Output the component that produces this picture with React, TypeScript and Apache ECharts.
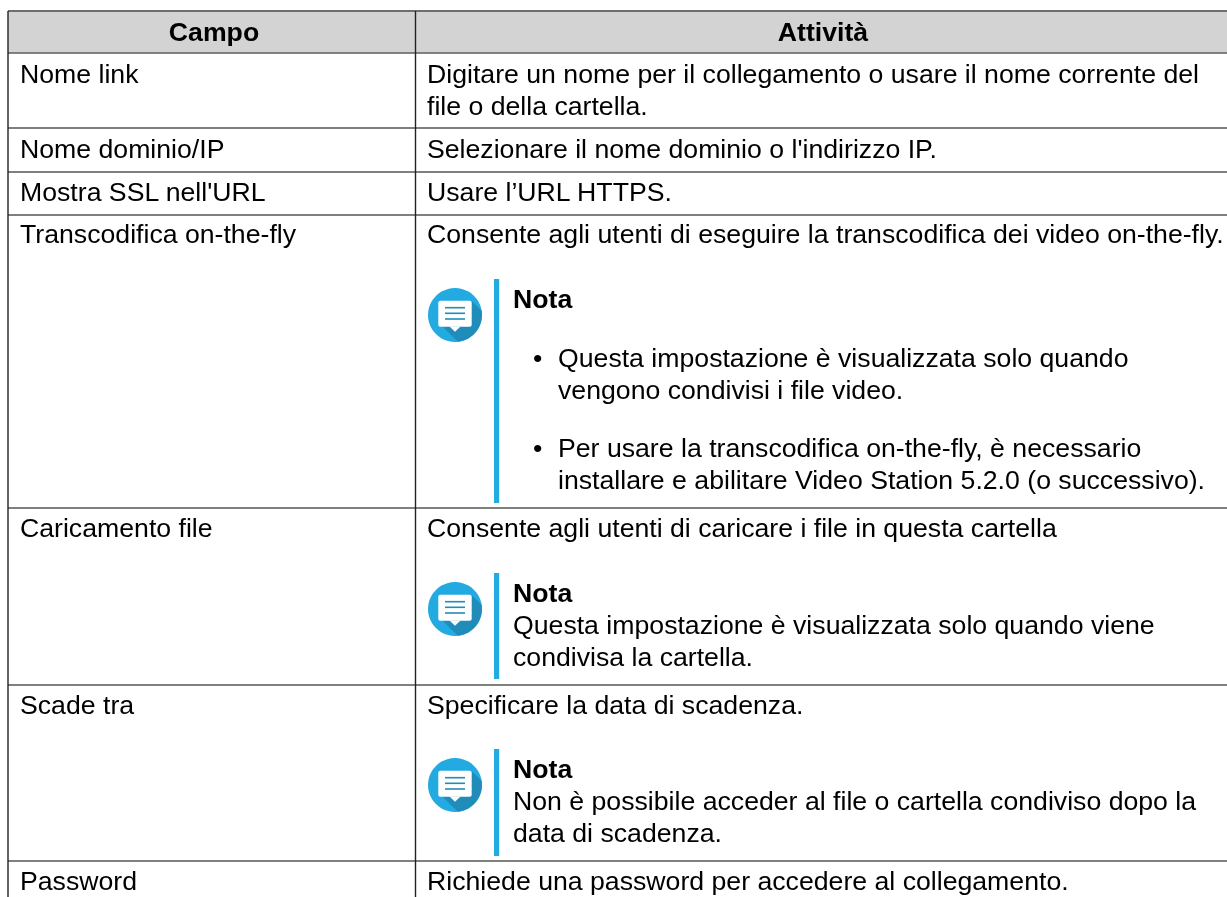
import React, { useEffect, useRef } from "react";
import * as echarts from "echarts";

// ---- content ----
const headers = ["Campo", "Attività"];
const fields = [
  "Nome link",
  "Nome dominio/IP",
  "Mostra SSL nell'URL",
  "Transcodifica on-the-fly",
  "Caricamento file",
  "Scade tra",
  "Password",
];
const activities = [
  ["Digitare un nome per il collegamento o usare il nome corrente del", "file o della cartella."],
  ["Selezionare il nome dominio o l'indirizzo IP."],
  ["Usare l’URL HTTPS."],
  ["Consente agli utenti di eseguire la transcodifica dei video on-the-fly."],
  ["Consente agli utenti di caricare i file in questa cartella"],
  ["Specificare la data di scadenza."],
  ["Richiede una password per accedere al collegamento."],
];
const noteTitle = "Nota";
const note1Bullets = [
  ["Questa impostazione è visualizzata solo quando", "vengono condivisi i file video."],
  ["Per usare la transcodifica on-the-fly, è necessario", "installare e abilitare Video Station 5.2.0 (o successivo)."],
];
const note2Lines = ["Questa impostazione è visualizzata solo quando viene", "condivisa la cartella."];
const note3Lines = ["Non è possibile acceder al file o cartella condiviso dopo la", "data di scadenza."];

// ---- layout ----
const W = 1227;
const H = 897;
const leftX = 8;
const dividerX = 415.5;
const topY = 11;
const headerBottom = 53;
const rowBottoms = [128, 172, 215, 508, 685, 861];
const rowTextY = [74, 149, 192, 234, 528, 705, 881];
const lineGap = 32;
const leftTextX = 20;
const rightTextX = 427;
const noteTextX = 513;
const bulletDotX = 533;
const bulletTextX = 558;
const iconCx = 455;
const FONT = '"Liberation Sans", Arial, sans-serif';
const SIZE = 26.67;

const shadowPath = "M16.7 -14 L26.7 -4 A27 27 0 0 1 2.8 26.8 L-12 12 Z";
echarts.graphic.registerShape("noteShadowPath", echarts.graphic.extendPath(shadowPath as any, {}) as any);

function txt(s: string, x: number, y: number, bold = false, align = "left") {
  return {
    type: "text",
    silent: true,
    style: {
      text: s,
      x,
      y,
      fill: "#000",
      font: `${bold ? "bold " : ""}${SIZE}px ${FONT}`,
      align,
      verticalAlign: "middle",
    },
  };
}
function hline(y: number, color = "#555", w = 1.5) {
  return { type: "line", silent: true, shape: { x1: leftX, y1: y, x2: W, y2: y }, style: { stroke: color, lineWidth: w } };
}
function vline(x: number) {
  return { type: "line", silent: true, shape: { x1: x, y1: topY, x2: x, y2: H }, style: { stroke: "#222", lineWidth: 1.4 } };
}
function icon(cy: number) {
  const blue = "#22aae1";
  const dark = "#1f8cba";
  const out: any[] = [
    { type: "circle", silent: true, shape: { cx: iconCx, cy, r: 27 }, style: { fill: blue } },
    { type: "noteShadowPath", silent: true, x: iconCx, y: cy, style: { fill: dark } },
    { type: "rect", silent: true, shape: { x: iconCx - 16.7, y: cy - 14.3, width: 33.4, height: 26, r: 2 }, style: { fill: "#fff" } },
    { type: "polygon", silent: true, shape: { points: [[iconCx - 5.5, cy + 11.5], [iconCx + 5.5, cy + 11.5], [iconCx, cy + 16.7]] }, style: { fill: "#fff" } },
  ];
  [-7.3, -1.7, 4].forEach((d) =>
    out.push({ type: "rect", silent: true, shape: { x: iconCx - 10, y: cy + d - 0.8, width: 20, height: 1.6 }, style: { fill: dark } })
  );
  return out;
}
function bar(y1: number, y2: number) {
  return { type: "rect", silent: true, shape: { x: 494, y: y1, width: 5.2, height: y2 - y1 }, style: { fill: "#22aae1" } };
}

function buildGraphics() {
  const els: any[] = [];
  els.push({ type: "rect", silent: true, shape: { x: leftX, y: topY, width: W - leftX, height: headerBottom - topY }, style: { fill: "#d3d3d3" } });
  els.push(hline(topY, "#6e6e6e", 2));
  els.push(hline(headerBottom, "#5e5e5e", 1.6));
  rowBottoms.forEach((y) => els.push(hline(y)));
  els.push(vline(leftX), vline(dividerX));

  els.push(txt(headers[0], 214, 32, true, "center"));
  els.push(txt(headers[1], 823, 32, true, "center"));

  fields.forEach((f, i) => els.push(txt(f, leftTextX, rowTextY[i])));
  activities.forEach((lines, i) =>
    lines.forEach((l, j) => els.push(txt(l, rightTextX, rowTextY[i] + j * lineGap)))
  );

  // note 1
  els.push(...icon(315), bar(279, 503));
  els.push(txt(noteTitle, noteTextX, 299, true));
  const bulletY = [358, 448];
  note1Bullets.forEach((lines, i) => {
    els.push(txt("•", bulletDotX, bulletY[i]));
    lines.forEach((l, j) => els.push(txt(l, bulletTextX, bulletY[i] + j * lineGap)));
  });
  // note 2
  els.push(...icon(609), bar(573, 679));
  els.push(txt(noteTitle, noteTextX, 593, true));
  note2Lines.forEach((l, j) => els.push(txt(l, noteTextX, 625 + j * lineGap)));
  // note 3
  els.push(...icon(785), bar(749, 856));
  els.push(txt(noteTitle, noteTextX, 769, true));
  note3Lines.forEach((l, j) => els.push(txt(l, noteTextX, 801 + j * lineGap)));
  return els;
}

export default function App() {
  const ref = useRef<HTMLDivElement>(null);
  useEffect(() => {
    document.body.style.margin = "0";
    const chart = echarts.init(ref.current!, undefined, { renderer: "svg" });
    chart.setOption({ animation: false, backgroundColor: "#ffffff", graphic: { elements: buildGraphics() } });
    return () => chart.dispose();
  }, []);
  return <div ref={ref} style={{ width: W, height: H, filter: "blur(0.4px)" }} />;
}
